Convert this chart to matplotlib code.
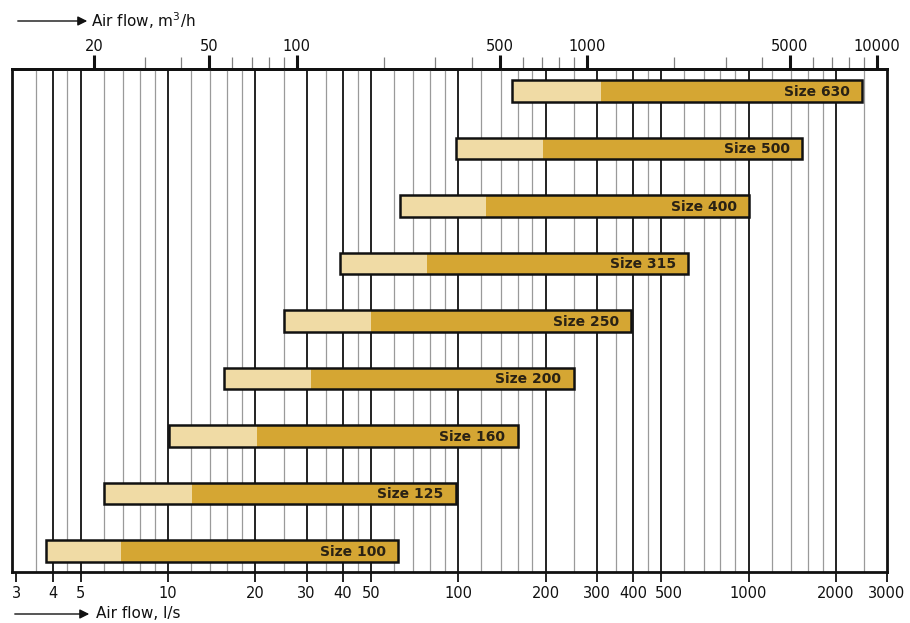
import matplotlib
matplotlib.use("Agg")
import matplotlib.pyplot as plt
import matplotlib.transforms as mtransforms
from matplotlib.ticker import FixedLocator, FixedFormatter, NullFormatter
from matplotlib.patches import FancyArrowPatch

plt.rcParams['font.family'] = ['DejaVu Sans']

# Duct sizes and their air flow ranges in l/s
sizes = ["Size 100", "Size 125", "Size 160", "Size 200", "Size 250",
         "Size 315", "Size 400", "Size 500", "Size 630"]
flow_min = [3.8, 6.0, 10.1, 15.6, 25.0, 39.0, 63.0, 98.0, 153.0]
flow_mid = [6.9, 12.1, 20.2, 31.0, 50.0, 78.0, 125.0, 196.0, 311.0]
flow_max = [62.0, 98.0, 160.0, 250.0, 395.0, 620.0, 1005.0, 1530.0, 2470.0]

# Scale definitions
ls_major = [3, 4, 5, 10, 20, 30, 40, 50, 100, 200, 300, 400, 500, 1000, 2000, 3000]
ls_minor = [3.5, 4.5, 6, 7, 8, 9, 12, 14, 16, 18, 25, 35, 45, 60, 70, 80, 90,
            120, 140, 160, 180, 250, 350, 450, 600, 700, 800, 900,
            1200, 1400, 1600, 1800, 2500]
m3h_major = [20, 50, 100, 500, 1000, 5000, 10000]
m3h_minor = [30, 40, 60, 70, 80, 90, 200, 300, 400, 600, 700, 800, 900,
             2000, 3000, 4000, 6000, 7000, 8000, 9000]

LIGHT = "#F0DBA5"
DARK = "#D5A633"

fig = plt.figure(figsize=(9.10, 6.23), dpi=100)
ax = fig.add_axes([12 / 910, 1 - 572 / 623, 875 / 910, (572 - 69) / 623])
ax.set_xscale("log")
ax.set_xlim(2.9, 3000)
ax.set_ylim(-0.365, 8.383)

# Vertical grid
for v in ls_minor:
    ax.axvline(v, color="#9a9a9a", lw=0.9, zorder=1)
for v in ls_major[1:-1]:
    ax.axvline(v, color="#111111", lw=1.3, zorder=1)

# Bars: low range (light), main range (dark), black outline
y = list(range(len(sizes)))
h = 0.38
ax.barh(y, [m - a for a, m in zip(flow_min, flow_mid)], left=flow_min,
        height=h, color=LIGHT, edgecolor="none", zorder=3)
ax.barh(y, [b - m for m, b in zip(flow_mid, flow_max)], left=flow_mid,
        height=h, color=DARK, edgecolor="none", zorder=3)
ax.barh(y, [b - a for a, b in zip(flow_min, flow_max)], left=flow_min,
        height=h, color="none", edgecolor="#111111", linewidth=1.8, zorder=4)
for yi, name, b in zip(y, sizes, flow_max):
    ax.annotate(name, xy=(b, yi), xytext=(-9, -0.5), textcoords="offset points",
                ha="right", va="center", fontsize=10, fontweight="bold",
                color="#2a2214", zorder=5)

for s in ax.spines.values():
    s.set_linewidth(2.0)
    s.set_color("#111111")
ax.set_yticks([])

# Bottom axis: l/s
ax.xaxis.set_major_locator(FixedLocator(ls_major))
ax.xaxis.set_major_formatter(FixedFormatter([str(v) for v in ls_major]))
ax.xaxis.set_minor_locator(FixedLocator([]))
ax.xaxis.set_minor_formatter(NullFormatter())
ax.tick_params(axis="x", which="major", direction="out", length=7, width=1.3,
               labelsize=10.5, pad=3, colors="#111111")

# Nudge the crowded "500" label to the right
fig.canvas.draw()
for t in ax.xaxis.get_major_ticks():
    if t.label1.get_text() == "500":
        t.label1.set_transform(t.label1.get_transform() +
                               mtransforms.ScaledTranslation(8 / 100, 0, fig.dpi_scale_trans))

# Top axis: m3/h
top = ax.secondary_xaxis("top", functions=(lambda x: x * 3.6, lambda x: x / 3.6))
top.xaxis.set_major_locator(FixedLocator(m3h_major))
top.xaxis.set_major_formatter(FixedFormatter([str(v) for v in m3h_major]))
top.xaxis.set_minor_locator(FixedLocator(m3h_minor))
top.xaxis.set_minor_formatter(NullFormatter())
top.tick_params(axis="x", which="major", direction="out", length=10, width=2.2,
                labelsize=10.5, pad=1, colors="#111111")
top.tick_params(axis="x", which="minor", direction="out", length=9, width=0.9,
                colors="#808080")
top.spines["top"].set_linewidth(2.0)

# Axis titles with arrows
def arrow_title(x0, x1, yy, text, tx):
    arr = FancyArrowPatch((x0 / 910, 1 - yy / 623), (x1 / 910, 1 - yy / 623),
                          transform=fig.transFigure, arrowstyle="-|>",
                          mutation_scale=14, lw=1.0, color="#111111")
    fig.add_artist(arr)
    fig.text(tx / 910, 1 - yy / 623, text, ha="left", va="center",
             fontsize=11, color="#111111")

arrow_title(15, 90, 21, "Air flow, m$^3$/h", 91)
arrow_title(12, 92, 614, "Air flow, l/s", 96)

fig.savefig("out.png", dpi=100)
